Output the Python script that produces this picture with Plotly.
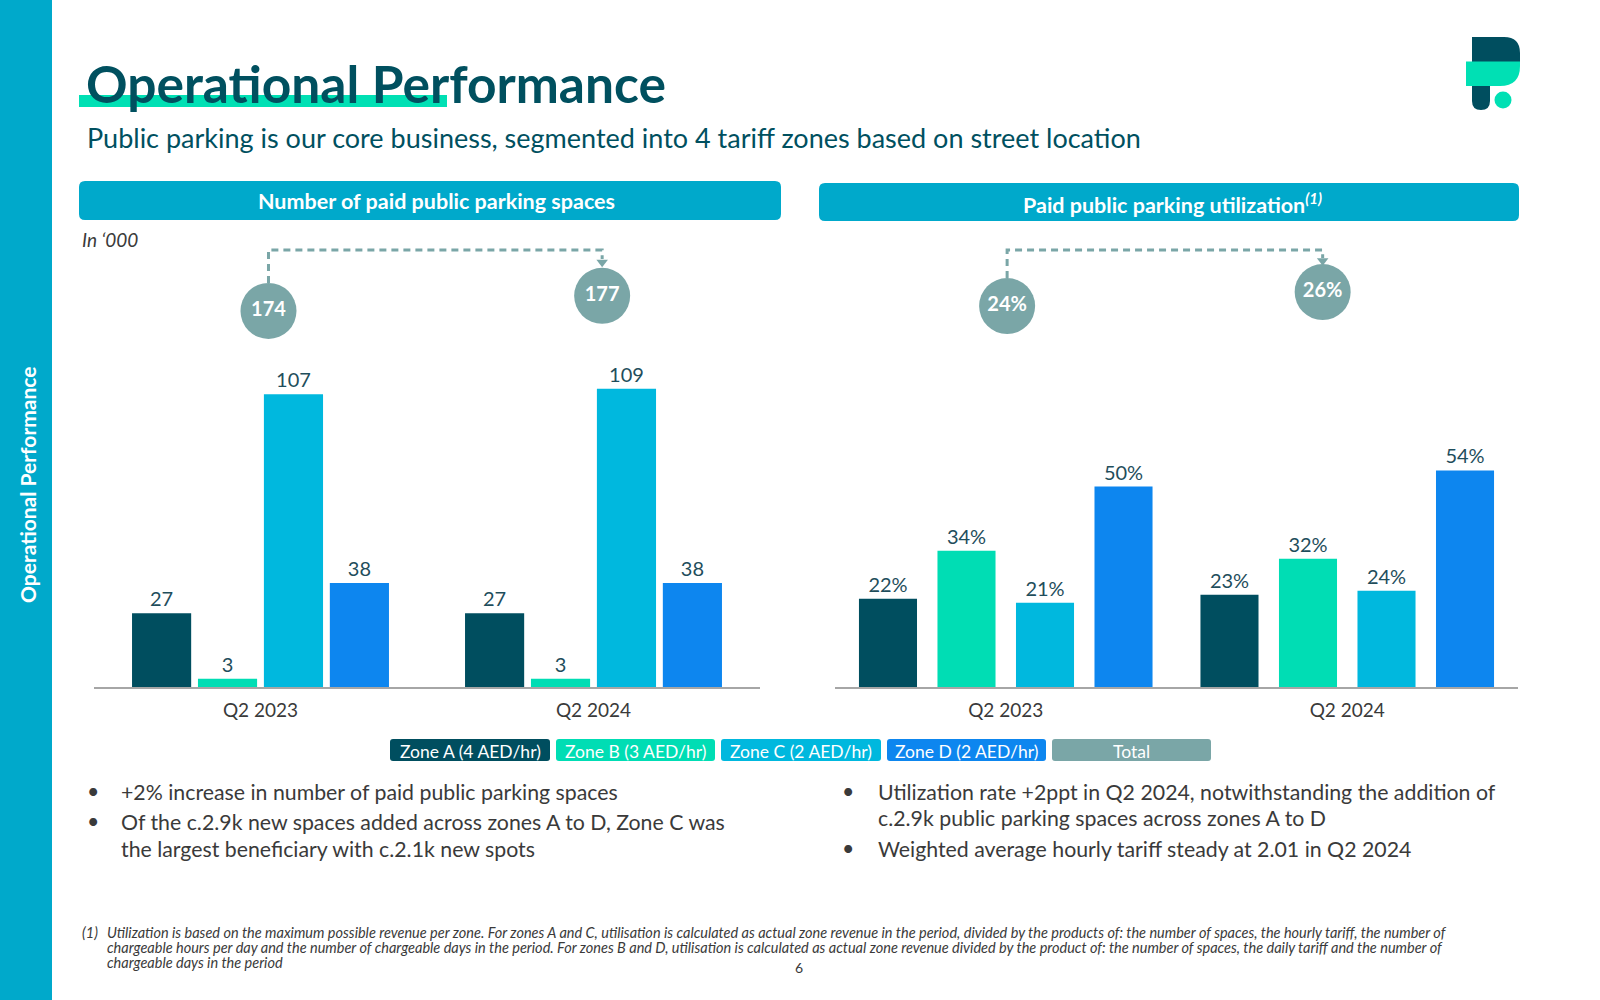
import plotly.graph_objects as go

W, H = 1600, 1000

# ---------------- data ----------------
categories = ["Q2 2023", "Q2 2024"]
zone_labels = ["Zone A (4 AED/hr)", "Zone B (3 AED/hr)", "Zone C (2 AED/hr)", "Zone D (2 AED/hr)"]
legend_labels = zone_labels + ["Total"]

spaces_zone_a = [27, 27]
spaces_zone_b = [3, 3]
spaces_zone_c = [107, 109]
spaces_zone_d = [38, 38]
spaces_total = [174, 177]

util_zone_a = [22, 23]
util_zone_b = [34, 32]
util_zone_c = [21, 24]
util_zone_d = [50, 54]
util_total = [24, 26]

# ---------------- styles ----------------
FONT = "Lato, 'Noto Sans', sans-serif"
C_SIDE = "#00A9CB"
C_TITLE = "#00505F"
C_MINT = "#00E0B4"
zone_colors = ["#004E5F", "#00DDB4", "#00B8DE", "#0D86EF"]
C_TOTAL = "#7AA6A7"
C_TEXT = "#3A3A3A"
C_LABEL = "#1F4E5C"


def px(x):
    return x / W


def py(y):
    return 1 - y / H


def rrect(x0, y0, x1, y1, r):
    pts = [
        f"M{px(x0 + r)},{py(y0)}", f"L{px(x1 - r)},{py(y0)}",
        f"Q{px(x1)},{py(y0)} {px(x1)},{py(y0 + r)}", f"L{px(x1)},{py(y1 - r)}",
        f"Q{px(x1)},{py(y1)} {px(x1 - r)},{py(y1)}", f"L{px(x0 + r)},{py(y1)}",
        f"Q{px(x0)},{py(y1)} {px(x0)},{py(y1 - r)}", f"L{px(x0)},{py(y0 + r)}",
        f"Q{px(x0)},{py(y0)} {px(x0 + r)},{py(y0)}", "Z",
    ]
    return " ".join(pts)


def path(cmds):
    out = []
    for c in cmds:
        op = c[0]
        coords = c[1:]
        s = " ".join(f"{px(coords[i])},{py(coords[i + 1])}" for i in range(0, len(coords), 2))
        out.append(op + s)
    return " ".join(out) + " Z"


fig = go.Figure()

xpos = [0, 1]

# ---------------- left chart: spaces ----------------
left_series = [spaces_zone_a, spaces_zone_b, spaces_zone_c, spaces_zone_d]
wl, sl = 0.1776, 0.198
for i, vals in enumerate(left_series):
    fig.add_trace(go.Bar(
        x=xpos, y=vals, width=wl, offset=(i - 1.5) * sl - wl / 2,
        marker=dict(color=zone_colors[i], line=dict(width=0)),
        text=[str(v) for v in vals], textposition="outside",
        textfont=dict(family=FONT, size=20, color=C_LABEL),
        cliponaxis=False, xaxis="x", yaxis="y", showlegend=False, name=zone_labels[i],
    ))

# ---------------- right chart: utilization ----------------
right_series = [util_zone_a, util_zone_b, util_zone_c, util_zone_d]
wr, sr = 0.170, 0.2299
for i, vals in enumerate(right_series):
    fig.add_trace(go.Bar(
        x=xpos, y=vals, width=wr, offset=(i - 1.5) * sr - wr / 2,
        marker=dict(color=zone_colors[i], line=dict(width=0)),
        text=[f"{v}%" for v in vals], textposition="outside",
        textfont=dict(family=FONT, size=20, color=C_LABEL),
        cliponaxis=False, xaxis="x2", yaxis="y2", showlegend=False, name=zone_labels[i],
    ))

# ---------------- totals bubbles + connectors ----------------
DASH = "7px,5px"
# left
lx = [0.024, 1.026]
ly = [137.5, 143.0]
fig.add_trace(go.Scatter(
    x=[lx[0], lx[0], lx[1], lx[1]], y=[147.7, 159.8, 159.8, 156.5],
    mode="lines", line=dict(color=C_TOTAL, width=3, dash=DASH),
    xaxis="x", yaxis="y", cliponaxis=False, showlegend=False, hoverinfo="skip"))
fig.add_trace(go.Scatter(
    x=[lx[1]], y=[155.3], mode="markers",
    marker=dict(symbol="triangle-down", size=10, color=C_TOTAL),
    xaxis="x", yaxis="y", cliponaxis=False, showlegend=False, hoverinfo="skip"))
fig.add_trace(go.Scatter(
    x=lx, y=ly, mode="markers+text",
    marker=dict(size=56, color=C_TOTAL, line=dict(width=0)),
    text=[str(v) for v in spaces_total], texttemplate="<b>%{text}</b>",
    textposition="middle center", textfont=dict(family=FONT, size=20, color="white"),
    xaxis="x", yaxis="y", cliponaxis=False, showlegend=False))
# right
rx = [0.004, 0.928]
ry = [95.0, 98.5]
fig.add_trace(go.Scatter(
    x=[rx[0], rx[0], rx[1], rx[1]], y=[102.0, 109.0, 109.0, 107.0],
    mode="lines", line=dict(color=C_TOTAL, width=3, dash=DASH),
    xaxis="x2", yaxis="y2", cliponaxis=False, showlegend=False, hoverinfo="skip"))
fig.add_trace(go.Scatter(
    x=[rx[1]], y=[106.3], mode="markers",
    marker=dict(symbol="triangle-down", size=10, color=C_TOTAL),
    xaxis="x2", yaxis="y2", cliponaxis=False, showlegend=False, hoverinfo="skip"))
fig.add_trace(go.Scatter(
    x=rx, y=ry, mode="markers+text",
    marker=dict(size=56, color=C_TOTAL, line=dict(width=0)),
    text=[f"{v}%" for v in util_total], texttemplate="<b>%{text}</b>",
    textposition="middle center", textfont=dict(family=FONT, size=20, color="white"),
    xaxis="x2", yaxis="y2", cliponaxis=False, showlegend=False))

axis_common = dict(
    showgrid=False, zeroline=False, showline=True, linecolor="#A6A6A6", linewidth=1.5,
    ticks="", tickmode="array", tickvals=xpos, ticktext=categories, ticklabelstandoff=5,
    tickfont=dict(family=FONT, size=19, color=C_TEXT), range=[-0.5, 1.5],
    fixedrange=True,
)
yaxis_common = dict(visible=False, showgrid=False, zeroline=False, fixedrange=True)

shapes = []
# sidebar
shapes.append(dict(type="rect", xref="paper", yref="paper", x0=0, x1=px(52), y0=0, y1=1,
                   fillcolor=C_SIDE, line=dict(width=0), layer="below"))
# title underline
shapes.append(dict(type="rect", xref="paper", yref="paper", x0=px(79), x1=px(447), y0=py(107), y1=py(95),
                   fillcolor=C_MINT, line=dict(width=0), layer="below"))
# header bars
shapes.append(dict(type="path", xref="paper", yref="paper", path=rrect(79, 181, 781, 220, 6),
                   fillcolor=C_SIDE, line=dict(width=0), layer="below"))
shapes.append(dict(type="path", xref="paper", yref="paper", path=rrect(819, 183, 1519, 221, 6),
                   fillcolor=C_SIDE, line=dict(width=0), layer="below"))
# legend boxes
legend_boxes = [(390, 550), (556, 715), (721, 881), (887, 1046), (1052, 1211)]
legend_colors = zone_colors + [C_TOTAL]
for (x0, x1), c in zip(legend_boxes, legend_colors):
    shapes.append(dict(type="path", xref="paper", yref="paper", path=rrect(x0, 739, x1, 761, 3),
                       fillcolor=c, line=dict(width=0), layer="below"))

# logo
C_DARK = "#004E5F"
shapes.append(dict(type="path", xref="paper", yref="paper",
                   path=path([("M", 1472, 37), ("L", 1504, 37), ("Q", 1520, 37, 1520, 53),
                              ("L", 1520, 62), ("L", 1490, 62), ("L", 1490, 101),
                              ("Q", 1490, 110, 1481, 110), ("Q", 1472, 110, 1472, 101)]),
                   fillcolor=C_DARK, line=dict(width=0), layer="below"))
shapes.append(dict(type="path", xref="paper", yref="paper",
                   path=path([("M", 1466, 61.5), ("L", 1520, 61.5), ("L", 1520, 66),
                              ("Q", 1520, 86, 1500, 86), ("L", 1466, 86)]),
                   fillcolor=C_MINT, line=dict(width=0), layer="below"))
shapes.append(dict(type="circle", xref="paper", yref="paper",
                   x0=px(1494.5), x1=px(1511.5), y0=py(108.5), y1=py(91.5),
                   fillcolor=C_MINT, line=dict(width=0), layer="below"))

annotations = []


def txt(x, y, text, size, color=C_TEXT, xanchor="left", bold=False, italic=False, angle=0, family=FONT):
    t = text
    if bold:
        t = f"<b>{t}</b>"
    if italic:
        t = f"<i>{t}</i>"
    annotations.append(dict(x=px(x), y=py(y), xref="paper", yref="paper", text=t, showarrow=False,
                            xanchor=xanchor, yanchor="middle", align="left", textangle=angle,
                            font=dict(family=family, size=size, color=color)))


txt(27, 485, "Operational Performance", 21, color="white", xanchor="center", bold=True, angle=-90)
txt(84, 83, "Operational Performance", 51.5, color=C_TITLE, bold=True)
txt(85, 137, "Public parking is our core business, segmented into 4 tariff zones based on street location",
    27, color=C_TITLE)
txt(436, 201, "Number of paid public parking spaces", 21.5, color="white", xanchor="center", bold=True)
txt(1172, 203, "Paid public parking utilization<sup><i>(1)</i></sup>", 21.5, color="white",
    xanchor="center", bold=True)
txt(80, 239, "In ‘000", 19, color=C_TEXT, italic=True)

for (x0, x1), lab in zip(legend_boxes, legend_labels):
    txt((x0 + x1) / 2, 751, lab, 17.5, color="white", xanchor="center")

# bullets
BS = 21.3
txt(93, 791, "•", BS, color=C_TEXT, xanchor="center")
txt(119, 792, "+2% increase in number of paid public parking spaces", BS)
txt(93, 821, "•", BS, color=C_TEXT, xanchor="center")
txt(119, 822, "Of the c.2.9k new spaces added across zones A to D, Zone C was", BS)
txt(119, 849, "the largest beneficiary with c.2.1k new spots", BS)

txt(848, 791, "•", BS, color=C_TEXT, xanchor="center")
txt(876, 792, "Utilization rate +2ppt in Q2 2024, notwithstanding the addition of", BS)
txt(876, 818, "c.2.9k public parking spaces across zones A to D", BS)
txt(848, 848, "•", BS, color=C_TEXT, xanchor="center")
txt(876, 849, "Weighted average hourly tariff steady at 2.01 in Q2 2024", BS)

# footnote
FS = 14.5
txt(80, 932, "(1)", FS, italic=True)
txt(105, 932, "Utilization is based on the maximum possible revenue per zone. For zones A and C, utilisation is calculated as actual zone revenue in the period, divided by the products of: the number of spaces, the hourly tariff, the number of", FS, italic=True)
txt(105, 947, "chargeable hours per day and the number of chargeable days in the period. For zones B and D, utilisation is calculated as actual zone revenue divided by the product of: the number of spaces, the daily tariff and the number of", FS, italic=True)
txt(105, 962, "chargeable days in the period", FS, italic=True)
txt(799, 967, "6", 14, xanchor="center")

fig.update_layout(
    width=W, height=H, margin=dict(l=0, r=0, t=0, b=0),
    paper_bgcolor="white", plot_bgcolor="rgba(0,0,0,0)",
    barmode="overlay", showlegend=False,
    font=dict(family=FONT, color=C_TEXT),
    xaxis=dict(domain=[px(94), px(760)], anchor="y", **axis_common),
    yaxis=dict(domain=[py(687), py(235.7)], range=[0, 165], anchor="x", **yaxis_common),
    xaxis2=dict(domain=[px(835), px(1518)], anchor="y2", **axis_common),
    yaxis2=dict(domain=[py(687), py(237.9)], range=[0, 112], anchor="x2", **yaxis_common),
    shapes=shapes, annotations=annotations,
)

fig.write_html("out.html", config={"displayModeBar": False},
               post_script="document.body.style.margin='0';document.body.style.overflow='hidden';")
